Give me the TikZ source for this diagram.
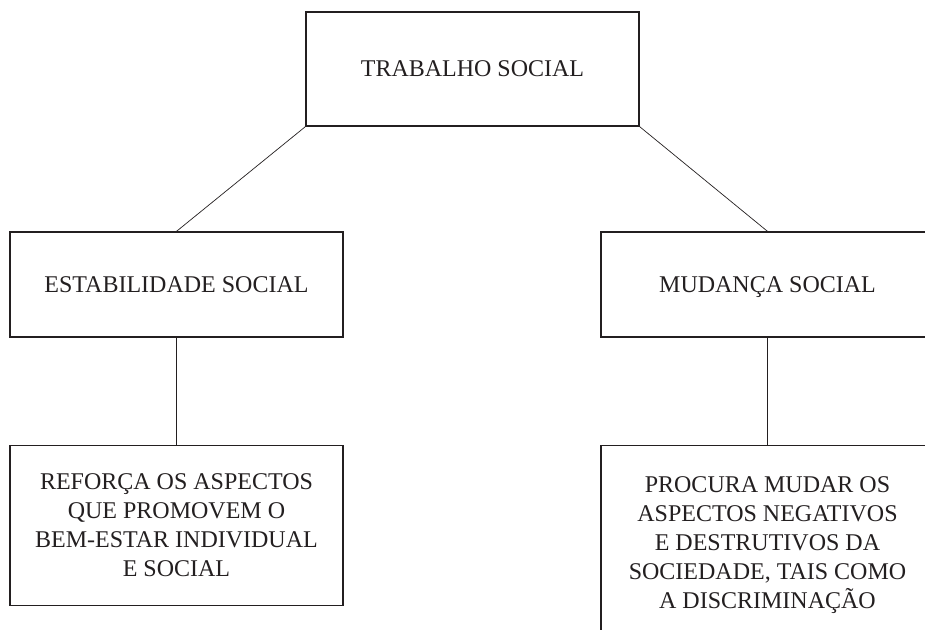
\documentclass[tikz,border=0pt]{standalone}
\usepackage{fontspec}
\setmainfont{Liberation Serif}
\usepackage{tikz}
\usetikzlibrary{positioning}

\definecolor{ink}{HTML}{231F20}

\begin{document}
\begin{tikzpicture}[
        x=1pt, y=-1pt,
        box/.style={rectangle, draw=ink, line width=1.3pt, text=ink, inner sep=0pt,
            minimum width=333pt, align=center, font=\fontsize{24}{29}\selectfont},
        head/.style={box, minimum height=114pt, text depth=0pt},
        branch/.style={box, minimum height=105pt, text depth=0pt},
        leaf/.style={box, minimum height=160pt},
        tail/.style={box, minimum height=200pt},
        link/.style={-, line width=0.7pt, ink}
    ]
        \useasboundingbox (0,0) rectangle (925,629);
        \clip (0,0) rectangle (925,629);

        \node[head](ts) at (472.5,69){TRABALHO SOCIAL};
            \node[branch](es) at (176.5,284.5){ESTABILIDADE SOCIAL};
                \node[leaf](ref)[below=107pt of es]{REFORÇA OS ASPECTOS\\QUE PROMOVEM O\\BEM-ESTAR INDIVIDUAL\\E SOCIAL};
            \node[branch](ms) at (767.5,284.5){MUDANÇA SOCIAL};
                \node[tail](proc)[below=107pt of ms]{PROCURA MUDAR OS\\ASPECTOS NEGATIVOS\\E DESTRUTIVOS DA\\SOCIEDADE, TAIS COMO\\A DISCRIMINAÇÃO};

        \draw[link] (ts.south west) -- (es.north);
        \draw[link] (ts.south east) -- (ms.north);
        \draw[link] (es.south) -- (ref.north);
        \draw[link] (ms.south) -- (proc.north);
    \end{tikzpicture}
\end{document}
